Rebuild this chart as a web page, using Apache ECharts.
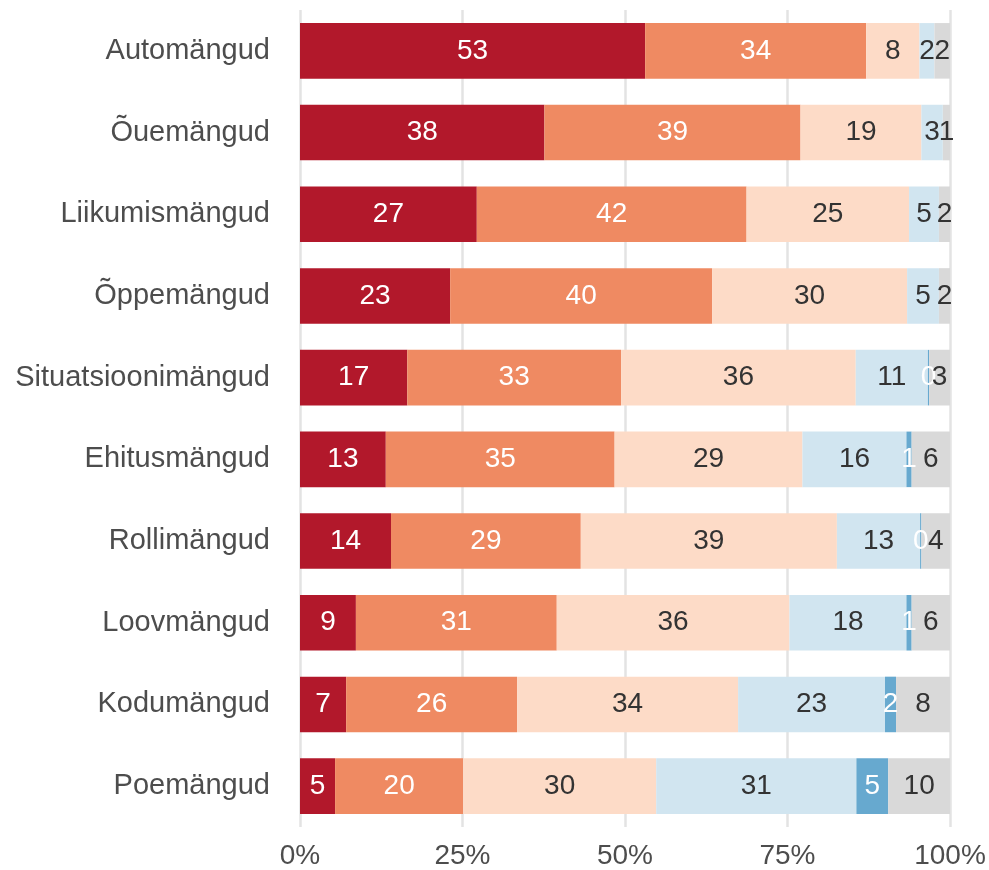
<!DOCTYPE html>
<html>
<head>
<meta charset="utf-8">
<script src="https://cdn.jsdelivr.net/npm/echarts@6/dist/echarts.min.js"></script>
<style>
html, body { margin: 0; padding: 0; background: #fff; }
#chart { width: 989px; height: 870px; }
</style>
</head>
<body>
<div id="chart"></div>
<script>
var categories = ['Automängud', 'Õuemängud', 'Liikumismängud', 'Õppemängud', 'Situatsioonimängud',
	'Ehitusmängud', 'Rollimängud', 'Loovmängud', 'Kodumängud', 'Poemängud'];
var seriesNames = ['Väga sageli', 'Sageli', 'Mõnikord', 'Harva', 'Mitte kunagi', 'Ei tea'];
var data1 = [53.1, 37.6, 27.2, 23.1, 16.5, 13.2, 14.0, 8.6, 7.1, 5.4];
var data2 = [34.0, 39.4, 41.5, 40.3, 32.9, 35.2, 29.2, 30.9, 26.3, 19.7];
var data3 = [8.2, 18.6, 25.0, 30.0, 36.1, 28.9, 39.4, 35.8, 34.0, 29.7];
var data4 = [2.3, 3.3, 4.6, 4.9, 11.1, 16.0, 12.8, 18.0, 22.6, 30.8];
var data5 = [0, 0, 0, 0, 0.2, 0.8, 0.2, 0.8, 1.7, 4.9];
var data6 = [2.4, 1.1, 1.7, 1.7, 3.2, 5.9, 4.4, 5.9, 8.3, 9.5];
var xTicks = [0, 25, 50, 75, 100];

var colors = ['#b2182b', '#ef8a62', '#fddbc7', '#d1e5f0', '#67a9cf', '#d9d9d9'];
var labelColors = ['#ffffff', '#ffffff', '#333333', '#333333', '#ffffff', '#333333'];
var font = 'Liberation Sans, Arial, Helvetica, sans-serif';

var myChart = echarts.init(document.getElementById('chart'));
var allData = [data1, data2, data3, data4, data5, data6];
var series = [];
for (var i = 0; i < allData.length; i++) {
	series.push({
		name: seriesNames[i],
		type: 'bar',
		stack: 'total',
		barCategoryGap: '32%',
		itemStyle: { color: colors[i] },
		label: {
			show: true,
			position: 'inside',
			color: labelColors[i],
			fontFamily: font,
			fontSize: 28,
			formatter: function(p) { return p.value > 0 ? Math.round(p.value) : ''; }
		},
		data: allData[i]
	});
}

var option = {
	animation: false,
	grid: { left: 300, right: 39, top: 10, bottom: 41 },
	xAxis: {
		type: 'value',
		min: xTicks[0],
		max: xTicks[xTicks.length - 1],
		interval: 25,
		axisLine: { show: false },
		axisTick: { show: false },
		splitLine: { show: true, lineStyle: { color: '#e3e3e3', width: 2.5 } },
		axisLabel: {
			formatter: '{value}%',
			color: '#4d4d4d',
			fontFamily: font,
			fontSize: 28,
			margin: 15
		}
	},
	yAxis: {
		type: 'category',
		inverse: true,
		data: categories,
		axisLine: { show: false },
		axisTick: { show: false },
		axisLabel: {
			color: '#4d4d4d',
			fontFamily: font,
			fontSize: 29,
			margin: 30
		}
	},
	series: series
};
myChart.setOption(option);
</script>
</body>
</html>
